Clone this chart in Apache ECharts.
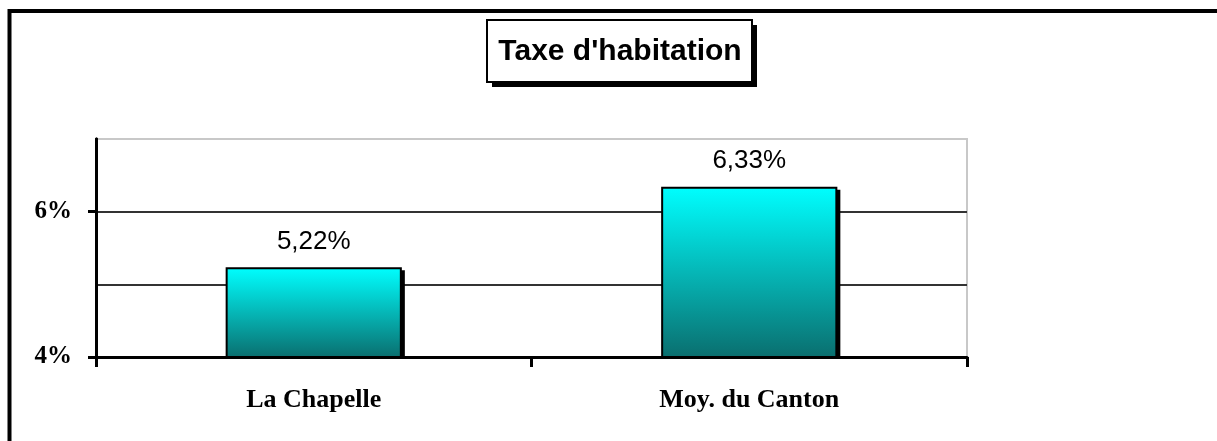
<!DOCTYPE html>
<html>
<head>
	<meta charset="UTF-8" />
	<title>Taxe d'habitation</title>
	<style type="text/css">
		* {
			margin: 0;
			padding: 0;
		}

		#main {
			width: 1217px;
			height: 441px;
			background-color: #fff;
		}
	</style>
</head>
<body>
	<div id="main"></div>
</body>
<script src="https://cdn.jsdelivr.net/npm/echarts@6/dist/echarts.min.js"></script>
<script type="text/javascript">
	// données
	var categories = ['La Chapelle', 'Moy. du Canton']
	var taux = [5.22, 6.33]
	var tickLabels = [4, 6]
	var yMin = 4
	var yMax = 7

	var myChart = echarts.init(document.getElementById('main'))

	var barData = taux.map(function (v, i) {
		return [i, v]
	})

	var degrade = new echarts.graphic.LinearGradient(0, 0, 0, 1, [
		{ offset: 0, color: '#00ffff' },
		{ offset: 1, color: '#0a6e6e' }
	])

	var option = {
		backgroundColor: '#fff',
		animation: false,
		graphic: [{
			// cadre extérieur
			type: 'rect',
			shape: { x: 9.5, y: 11, width: 1400, height: 1000 },
			style: { fill: 'none', stroke: '#000', lineWidth: 4 },
			silent: true
		}, {
			// ombre du titre
			type: 'rect',
			z: 10,
			shape: { x: 492, y: 25, width: 265, height: 62 },
			style: { fill: '#000' }
		}, {
			type: 'rect',
			z: 11,
			shape: { x: 487, y: 20, width: 265, height: 62 },
			style: { fill: '#fff', stroke: '#000', lineWidth: 2 }
		}, {
			type: 'text',
			z: 12,
			x: 620,
			y: 52,
			style: {
				text: "Taxe d'habitation",
				align: 'center',
				verticalAlign: 'middle',
				fontFamily: 'Liberation Sans',
				fontWeight: 'bold',
				fontSize: 30,
				fill: '#000'
			}
		}],
		grid: {
			left: 96,
			right: 250,
			top: 139,
			bottom: 84,
			show: true,
			borderColor: '#c8c8c8',
			borderWidth: 2
		},
		xAxis: {
			type: 'category',
			data: categories,
			axisLine: { lineStyle: { color: '#000', width: 3 } },
			axisTick: {
				show: true,
				alignWithLabel: false,
				length: 10,
				lineStyle: { color: '#000', width: 3 }
			},
			axisLabel: {
				margin: 30,
				fontFamily: 'Liberation Serif',
				fontWeight: 'bold',
				fontSize: 26,
				color: '#000'
			},
			splitLine: { show: false }
		},
		yAxis: [{
			// quadrillage
			type: 'value',
			min: yMin,
			max: yMax,
			interval: 1,
			axisLine: { show: true, lineStyle: { color: '#000', width: 3 } },
			axisTick: { show: false },
			axisLabel: { show: false },
			splitLine: {
				show: true,
				showMaxLine: false,
				lineStyle: { color: '#333', width: 2 }
			}
		}, {
			// graduations et libellés
			type: 'value',
			position: 'left',
			min: yMin,
			max: yMax,
			interval: 1,
			axisLine: { show: true, lineStyle: { color: '#000', width: 3 } },
			axisTick: {
				show: true,
				length: 8,
				customValues: tickLabels,
				lineStyle: { color: '#000', width: 3 }
			},
			axisLabel: {
				margin: 24,
				customValues: tickLabels,
				formatter: '{value}%',
				fontFamily: 'Liberation Serif',
				fontWeight: 'bold',
				fontSize: 25,
				color: '#000'
			},
			splitLine: { show: false }
		}],
		series: [{
			type: 'custom',
			yAxisIndex: 0,
			data: barData,
			encode: { x: 0, y: 1 },
			renderItem: function (params, api) {
				var haut = api.coord([api.value(0), api.value(1)])
				var bas = api.coord([api.value(0), yMin])
				var w = api.size([1, 0])[0] * 0.4
				var x = haut[0] - w / 2
				var h = bas[1] - haut[1]
				var txt = api.value(1).toFixed(2).replace('.', ',') + '%'
				return {
					type: 'group',
					children: [{
						type: 'rect',
						shape: { x: x + 4, y: haut[1] + 2, width: w, height: h - 2 },
						style: { fill: '#000' }
					}, {
						type: 'rect',
						shape: { x: x, y: haut[1], width: w, height: h },
						style: { fill: degrade, stroke: '#000', lineWidth: 2 }
					}, {
						type: 'text',
						x: haut[0],
						y: haut[1] - 14,
						style: {
							text: txt,
							align: 'center',
							verticalAlign: 'bottom',
							fontFamily: 'Liberation Sans',
							fontSize: 26,
							fill: '#000'
						}
					}]
				}
			}
		}]
	}
	myChart.setOption(option)
</script>
</html>
